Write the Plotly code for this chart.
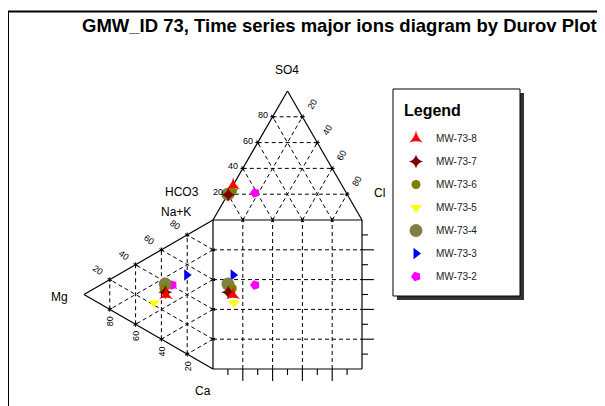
import math
import plotly.graph_objects as go

# ---------------- data (meq %) ----------------
samples = ["MW-73-2", "MW-73-3", "MW-73-4", "MW-73-5", "MW-73-6", "MW-73-7", "MW-73-8"]
cl_pct  = [17.7, 1.5, 0.0, 1.5, 2.0, 0.5, 0.0]
so4_pct = [21.0, 24.0, 20.0, 25.0, 22.0, 19.5, 27.0]
mg_pct  = [31.5, 20.4, 37.0, 45.7, 38.0, 37.0, 36.4]
nak_pct = [40.6, 52.9, 38.5, 21.4, 35.0, 33.0, 31.5]
tick_values = [20, 40, 60, 80]
title_text = "GMW_ID 73, Time series major ions diagram by Durov Plot"

# ---------------- styles ----------------
styles = {
    "MW-73-2": dict(symbol="pentagon", color="#ff00ff", size=10, angle=-90),
    "MW-73-3": dict(symbol="triangle-right", color="#0000ff", size=10, angle=0),
    "MW-73-4": dict(symbol="circle", color="#808040", size=13, angle=0),
    "MW-73-5": dict(symbol="triangle-down", color="#ffff00", size=10, angle=0),
    "MW-73-6": dict(symbol="circle", color="#808000", size=9, angle=0),
    "MW-73-7": dict(symbol="star-diamond", color="#800000", size=10, angle=0),
    "MW-73-8": dict(symbol="star-triangle-up", color="#ff0000", size=10, angle=0),
}

OFF = 8            # page body margin of the html page
W, H = 605 - OFF, 406 - OFF
S = 1.49           # px per % unit
X0, Y0 = 213 - OFF, 369 - OFF  # figure pixel of square's bottom-left corner
H3 = 0.8660254
FONT = "Liberation Sans, Arial"


def P(px, py):
    return (px - OFF - X0) / S, (Y0 - (py - OFF)) / S


def pp(px, py):
    return (px - OFF) / W, 1 - (py - OFF) / H


def top_xy(cl, so4):
    return cl + so4 / 2.0, 100 + so4 * H3


def left_xy(mg, nak):
    return -mg * H3, nak + mg / 2.0


fig = go.Figure()


def seg(xs, ys, a, b):
    xs += [a[0], b[0], None]
    ys += [a[1], b[1], None]


ox, oy = [], []
for a, b in [((0, 0), (100, 0)), ((100, 0), (100, 100)), ((100, 100), (0, 100)), ((0, 100), (0, 0))]:
    seg(ox, oy, a, b)
apex = top_xy(0, 100)
seg(ox, oy, (0, 100), apex)
seg(ox, oy, apex, (100, 100))
mgv = left_xy(100, 0)
seg(ox, oy, (0, 100), mgv)
seg(ox, oy, mgv, (0, 0))

gx, gy = [], []
tri_segs = []
for k in tick_values:
    tri_segs += [
        (top_xy(0, k), top_xy(100 - k, k)),
        ((k, 100), top_xy(k, 100 - k)),
        ((100 - k, 100), top_xy(0, 100 - k)),
        (left_xy(k, 0), left_xy(k, 100 - k)),
        (left_xy(0, k), left_xy(100 - k, k)),
        (left_xy(0, 100 - k), left_xy(100 - k, 0)),
    ]
for a, b in tri_segs:
    seg(gx, gy, a, b)
for k in tick_values:
    seg(gx, gy, (k, 0), (k, 100))
    seg(gx, gy, (0, k), (100, k))

tx, ty = [], []
for a, b in tri_segs:
    dx, dy = b[0] - a[0], b[1] - a[1]
    n = math.hypot(dx, dy)
    ux, uy = dx / n * 1.6, dy / n * 1.6
    for p in (a, b):
        seg(tx, ty, (p[0] - ux, p[1] - uy), (p[0] + ux, p[1] + uy))
for k in range(10, 100, 10):
    L = 8 if k % 20 == 0 else 4
    seg(tx, ty, (k, 0), (k, -L))
    seg(tx, ty, (100, k), (100 + L, k))

fig.add_trace(go.Scatter(x=gx, y=gy, mode="lines",
                         line=dict(color="black", width=1, dash="4px,3px"),
                         showlegend=False, hoverinfo="skip"))
fig.add_trace(go.Scatter(x=ox, y=oy, mode="lines", line=dict(color="black", width=1.2),
                         showlegend=False, hoverinfo="skip"))
fig.add_trace(go.Scatter(x=tx, y=ty, mode="lines", line=dict(color="black", width=1.1),
                         showlegend=False, hoverinfo="skip"))

n_s = len(samples)
for i, name in enumerate(samples):
    st = styles[name]
    ax, ay = top_xy(cl_pct[i], so4_pct[i])
    lx, ly = left_xy(mg_pct[i], nak_pct[i])
    fig.add_trace(go.Scatter(
        x=[ax, lx, ax], y=[ay, ly, ly], mode="markers", name=name, legendgroup=name,
        legendrank=100 + (n_s - i),
        marker=dict(symbol=st["symbol"], color=st["color"], size=st["size"], angle=st["angle"],
                    line=dict(width=0)),
    ))

ann = []
numfont = dict(family=FONT, size=9, color="black")
lblfont = dict(family=FONT, size=12, color="black")

for k in tick_values:
    x, y = top_xy(0, k)
    ann.append(dict(x=x, y=y, text=str(k), xanchor="right", yanchor="middle",
                    xshift=-3, yshift=2, font=numfont))
    x, y = top_xy(k, 100 - k)
    ann.append(dict(x=x, y=y, text=str(k), xanchor="center", yanchor="middle",
                    xshift=10, yshift=13, textangle=-60, font=numfont))
    x, y = left_xy(100 - k, k)
    ann.append(dict(x=x, y=y, text=str(k), xanchor="center", yanchor="middle",
                    xshift=-12, yshift=10, textangle=35, font=numfont))
    x, y = left_xy(k, 0)
    ann.append(dict(x=x, y=y, text=str(k), xanchor="center", yanchor="middle",
                    xshift=1, yshift=-12, textangle=-90, font=numfont))

for txt, px, py in [("SO4", 287, 70), ("HCO3", 182, 192), ("Na+K", 176, 212),
                    ("Cl", 379, 193), ("Mg", 59, 297), ("Ca", 203, 391)]:
    x, y = P(px, py)
    ann.append(dict(x=x, y=y, text=txt, xanchor="center", yanchor="middle", font=lblfont))

tx_, ty_ = pp(339.5, 25)
ann.append(dict(xref="paper", yref="paper", x=tx_, y=ty_, text="<b>" + title_text + "</b>",
                xanchor="center", yanchor="middle",
                font=dict(family=FONT, size=18.5, color="black")))
lgx, lgy = pp(402, 110)
ann.append(dict(xref="paper", yref="paper", x=lgx, y=lgy, text="<b>Legend</b>",
                xanchor="left", yanchor="middle",
                font=dict(family=FONT, size=16, color="black")))
for a in ann:
    a.setdefault("showarrow", False)

shapes = []
x1, y1 = pp(7, 11.5); x2, y2 = pp(613, 11.5)
shapes.append(dict(type="line", xref="paper", yref="paper", x0=x1, y0=y1, x1=x2, y1=y2,
                   line=dict(color="black", width=2)))
x1, y1 = pp(8, 11); x2, y2 = pp(8, 414)
shapes.append(dict(type="line", xref="paper", yref="paper", x0=x1, y0=y1, x1=x2, y1=y2,
                   line=dict(color="black", width=2)))
a0, b0 = pp(397, 93); a1, b1 = pp(524, 300)
shapes.append(dict(type="rect", xref="paper", yref="paper", x0=a0, y0=b1, x1=a1, y1=b0,
                   fillcolor="#333333", line=dict(width=0), layer="above"))
a0, b0 = pp(393, 89); a1, b1 = pp(520, 296)
shapes.append(dict(type="rect", xref="paper", yref="paper", x0=a0, y0=b1, x1=a1, y1=b0,
                   fillcolor="white", line=dict(color="black", width=1), layer="above"))

lx0, ly0 = pp(396, 124)
fig.update_layout(
    width=W, height=H, autosize=False,
    margin=dict(l=0, r=0, t=0, b=0),
    paper_bgcolor="white", plot_bgcolor="rgba(0,0,0,0)",
    xaxis=dict(range=[(0 - X0) / S, (W - X0) / S], visible=False, fixedrange=True),
    yaxis=dict(range=[(Y0 - H) / S, Y0 / S], visible=False, fixedrange=True),
    annotations=ann, shapes=shapes,
    showlegend=True,
    legend=dict(x=lx0, y=ly0, xanchor="left", yanchor="top",
                bgcolor="rgba(0,0,0,0)", borderwidth=0,
                traceorder="grouped", tracegroupgap=4,
                font=dict(family=FONT, size=10, color="#222222")),
)

fig.write_html("out.html")
